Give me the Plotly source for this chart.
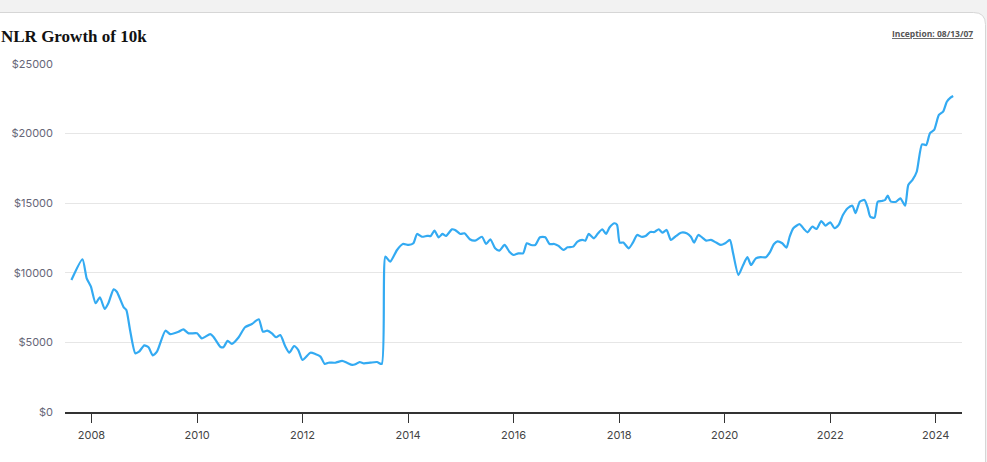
import plotly.graph_objects as go
import pandas as pd

# decimal-year positions of readings and growth-of-10k values (USD)
years = [
    2007.62, 2007.83, 2007.91, 2007.99, 2008.08, 2008.16, 2008.25, 2008.32, 2008.42, 2008.48,
    2008.61, 2008.66, 2008.73, 2008.83, 2008.90, 2009.00, 2009.08, 2009.16, 2009.24, 2009.40,
    2009.49, 2009.65, 2009.74, 2009.84, 2010.00, 2010.09, 2010.25, 2010.31, 2010.44, 2010.50,
    2010.58, 2010.66, 2010.79, 2010.91, 2011.04, 2011.17, 2011.25, 2011.33, 2011.42, 2011.50,
    2011.58, 2011.67, 2011.75, 2011.84, 2011.92, 2012.00, 2012.15, 2012.24, 2012.34, 2012.42,
    2012.49, 2012.62, 2012.75, 2012.84, 2012.94, 2013.00, 2013.08, 2013.16, 2013.28, 2013.41,
    2013.50, 2013.57, 2013.66, 2013.79, 2013.90, 2014.01, 2014.10, 2014.17, 2014.26, 2014.36,
    2014.43, 2014.50, 2014.58, 2014.65, 2014.72, 2014.83, 2014.89, 2014.99, 2015.07, 2015.17,
    2015.27, 2015.40, 2015.48, 2015.56, 2015.65, 2015.73, 2015.83, 2015.92, 2016.00, 2016.09,
    2016.18, 2016.25, 2016.33, 2016.41, 2016.50, 2016.60, 2016.68, 2016.77, 2016.85, 2016.94,
    2017.02, 2017.13, 2017.21, 2017.30, 2017.36, 2017.42, 2017.52, 2017.60, 2017.68, 2017.75,
    2017.82, 2017.91, 2017.96, 2018.01, 2018.08, 2018.18, 2018.26, 2018.34, 2018.42, 2018.50,
    2018.59, 2018.67, 2018.75, 2018.82, 2018.90, 2018.98, 2019.08, 2019.17, 2019.28, 2019.36,
    2019.42, 2019.50, 2019.57, 2019.65, 2019.74, 2019.84, 2019.93, 2020.01, 2020.10, 2020.16,
    2020.26, 2020.35, 2020.43, 2020.50, 2020.59, 2020.68, 2020.78, 2020.86, 2020.93, 2021.00,
    2021.09, 2021.17, 2021.23, 2021.30, 2021.42, 2021.50, 2021.57, 2021.66, 2021.74, 2021.83,
    2021.91, 2022.00, 2022.08, 2022.16, 2022.24, 2022.33, 2022.42, 2022.48, 2022.56, 2022.65,
    2022.71, 2022.76, 2022.84, 2022.90, 2022.98, 2023.04, 2023.09, 2023.15, 2023.25, 2023.33,
    2023.42, 2023.48, 2023.56, 2023.64, 2023.74, 2023.82, 2023.89, 2023.97, 2024.06, 2024.14,
    2024.21, 2024.28, 2024.33,
]
values = [
    9480, 10970, 9600, 9000, 7810, 8240, 7400, 7810, 8810, 8640,
    7520, 7330, 5890, 4220, 4330, 4790, 4650, 4070, 4330, 5840,
    5600, 5770, 5940, 5650, 5650, 5290, 5600, 5410, 4690, 4650,
    5120, 4890, 5370, 6090, 6320, 6660, 5770, 5840, 5650, 5370,
    5530, 4740, 4260, 4740, 4450, 3740, 4260, 4170, 3980, 3450,
    3540, 3540, 3670, 3540, 3380, 3430, 3590, 3500, 3540, 3590,
    3450, 11160, 10800, 11640, 12070, 12000, 12120, 12790, 12590, 12650,
    12650, 13030, 12550, 12790, 12650, 13120, 13080, 12790, 12840, 12410,
    12310, 12590, 12070, 12410, 11760, 11590, 12000, 11520, 11280, 11400,
    11400, 12120, 12000, 12000, 12550, 12550, 12070, 12070, 11930, 11640,
    11830, 11880, 12240, 12360, 12310, 12790, 12480, 12840, 13130, 12790,
    13270, 13560, 13440, 12170, 12170, 11760, 12170, 12720, 12590, 12650,
    12930, 12930, 13130, 12880, 13080, 12360, 12650, 12880, 12840, 12590,
    12170, 12720, 12550, 12310, 12360, 12170, 12000, 12120, 12360, 11400,
    9840, 10560, 11120, 10560, 11040, 11120, 11120, 11500, 12050, 12260,
    12120, 11810, 12590, 13200, 13490, 13150, 12910, 13320, 13150, 13720,
    13390, 13630, 13200, 13440, 14150, 14640, 14820, 14280, 15110, 15230,
    14680, 14030, 13960, 15110, 15160, 15230, 15540, 15110, 15110, 15350,
    14820, 16310, 16670, 17260, 19230, 19180, 20020, 20260, 21340, 21580,
    22290, 22580, 22700,
]
y_ticks = [0, 5000, 10000, 15000, 20000, 25000]
y_tick_labels = ["$0", "$5000", "$10000", "$15000", "$20000", "$25000"]
x_tick_years = [2008, 2010, 2012, 2014, 2016, 2018, 2020, 2022, 2024]


def to_date(y):
    yr = int(y)
    start = pd.Timestamp(year=yr, month=1, day=1)
    end = pd.Timestamp(year=yr + 1, month=1, day=1)
    return start + (end - start) * (y - yr)


dates = [to_date(y) for y in years]
x_ticks = [pd.Timestamp(year=y, month=1, day=1) for y in x_tick_years]

W, H = 987, 462
L, R, T, B = 65, 25, 64, 50
pw, ph = W - L - R, H - T - B


def px(x):
    return (x - L) / pw


def py(y):
    return (H - B - y) / ph


fig = go.Figure()
fig.add_trace(go.Scatter(
    x=dates, y=values, mode="lines",
    line=dict(color="#33aaf2", width=2.2, shape="spline", smoothing=0.6),
    hoverinfo="skip", showlegend=False,
))

# card background with rounded top-right corner
card = (f"M {px(-10)} {py(475)} L {px(-10)} {py(12.5)} L {px(973.5)} {py(12.5)} "
        f"Q {px(985.5)} {py(12.5)} {px(985.5)} {py(24.5)} L {px(985.5)} {py(475)} Z")
fig.add_shape(type="path", xref="paper", yref="paper", path=card,
              fillcolor="white", line=dict(color="#d6d6d6", width=1), layer="below")

fig.add_annotation(text="<b>NLR Growth of 10k</b>", xref="paper", yref="paper",
                   x=px(-1), y=py(36), xanchor="left", yanchor="middle", showarrow=False,
                   font=dict(family="Liberation Serif", size=17, color="#111111"))
fig.add_annotation(text="<b>Inception: 08/13/07</b>", xref="paper", yref="paper",
                   x=px(975), y=py(33), xanchor="right", yanchor="middle", showarrow=False,
                   font=dict(family="Open Sans", size=8.5, color="#555555", lineposition="under"))

fig.update_layout(
    width=W, height=H,
    margin=dict(l=L, r=R, t=T, b=B),
    paper_bgcolor="#f2f2f2",
    plot_bgcolor="rgba(0,0,0,0)",
    font=dict(family="Inter", size=11, color="#555555"),
    xaxis=dict(
        type="date",
        range=[pd.Timestamp("2007-07-02"), pd.Timestamp("2024-07-01")],
        tickvals=x_ticks, ticktext=[str(y) for y in x_tick_years],
        showgrid=False, zeroline=False,
        showline=True, linecolor="#333333", linewidth=1.5,
        ticks="outside", ticklen=9, tickwidth=1, tickcolor="#333333",
        ticklabelstandoff=3,
        tickfont=dict(family="Inter", size=11, color="#444444"),
    ),
    yaxis=dict(
        range=[0, 25000],
        tickvals=y_ticks, ticktext=y_tick_labels,
        showgrid=True, gridcolor="#e6e6e6", gridwidth=1,
        zeroline=False, showline=False,
        ticks="", ticklabelstandoff=11,
        tickfont=dict(family="Inter", size=11, color="#666677"),
    ),
)

fig.write_html("out.html", config={"displayModeBar": False},
               post_script="document.body.style.margin='0';document.body.style.background='#f2f2f2';")
